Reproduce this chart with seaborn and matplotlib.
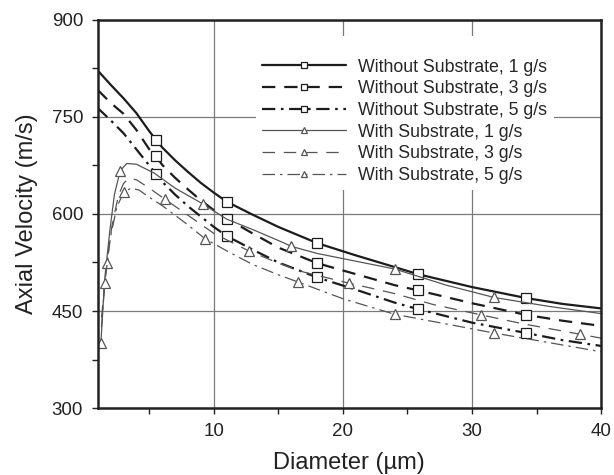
import matplotlib
matplotlib.use("Agg")
import matplotlib.pyplot as plt
import seaborn as sns

# without substrate (thick lines, squares)
wo_x = [1, 2, 3, 4, 5, 5.5, 6, 7, 8, 9, 10, 11, 13, 15, 18, 21, 24, 25.8, 30, 34.2, 37, 40]
wo_1 = [822, 800, 779, 756, 728, 715, 703, 683, 665, 648, 633, 619, 599, 580, 555, 536, 518, 507, 487, 470, 461, 454]
wo_3 = [792, 772, 755, 730, 700, 690, 676, 656, 638, 621, 606, 593, 570, 548, 524, 507, 490, 482, 462, 444, 435, 427]
wo_5 = [764, 745, 725, 700, 675, 662, 650, 630, 612, 596, 580, 566, 545, 525, 502, 483, 463, 453, 432, 416, 405, 396]
wo_marks = [5.5, 11, 18, 25.8, 34.2]

# with substrate (thin lines, triangles)
ws1_x = [1.25, 1.55, 1.95, 2.3, 2.75, 3.25, 4, 5.4, 7, 9.2, 11, 13, 15, 16, 18, 20.5, 24, 28, 31.7, 36, 40]
ws1_y = [400, 500, 575, 630, 667, 678, 677, 663, 640, 615, 592, 576, 559, 550, 539, 529, 515, 490, 471, 457, 446]
ws1_marks = [1.25, 2.75, 9.2, 16, 24, 31.7]

ws3_x = [1.3, 1.7, 2.1, 2.6, 3.0, 3.4, 4, 5, 6.2, 8, 10, 12.7, 15, 17, 20.5, 24, 27, 30.7, 34, 38.4, 40]
ws3_y = [440, 524, 580, 628, 647, 655, 653, 640, 623, 598, 570, 543, 524, 510, 493, 477, 460, 444, 430, 414, 408]
ws3_marks = [1.7, 6.2, 12.7, 20.5, 30.7, 38.4]

ws5_x = [1.3, 1.55, 2.0, 2.5, 3.05, 3.6, 4.2, 5, 6, 7, 8, 9.3, 11, 13, 15, 16.5, 20, 24, 28, 31.7, 36, 40]
ws5_y = [425, 493, 565, 612, 634, 640, 637, 626, 613, 598, 583, 562, 543, 522, 506, 495, 469, 445, 430, 416, 401, 387]
ws5_marks = [1.55, 3.05, 9.3, 16.5, 24, 31.7]

labels = ["Without Substrate, 1 g/s", "Without Substrate, 3 g/s", "Without Substrate, 5 g/s",
          "With Substrate, 1 g/s", "With Substrate, 3 g/s", "With Substrate, 5 g/s"]

sns.set_style("ticks")
plt.rcParams["font.family"] = ["Liberation Sans", "DejaVu Sans"]

fig = plt.figure(figsize=(6.14, 4.75), dpi=100)
ax = fig.add_axes([0.159, 0.141, 0.820, 0.817])

dark = "#1c1c1c"
grey = "#555555"
series = [
    (wo_x, wo_1, wo_marks, "s", dark, 1.6, "-"),
    (wo_x, wo_3, wo_marks, "s", dark, 1.6, (0, (6, 4))),
    (wo_x, wo_5, wo_marks, "s", dark, 1.6, (0, (6, 2.5, 1.2, 2.5))),
    (ws1_x, ws1_y, ws1_marks, "^", grey, 0.9, "-"),
    (ws3_x, ws3_y, ws3_marks, "^", grey, 0.9, (0, (10, 7))),
    (ws5_x, ws5_y, ws5_marks, "^", grey, 0.9, (0, (10, 4, 2, 4))),
]

for (xs, ys, marks, mk, col, lw, ls), lab in zip(series, labels):
    idx = [xs.index(m) for m in marks]
    sns.lineplot(x=xs, y=ys, ax=ax, estimator=None, sort=False, color=col, lw=lw,
                 linestyle=ls, marker=mk, markevery=idx, markersize=6.5,
                 markerfacecolor="white", markeredgecolor=col, markeredgewidth=0.9,
                 label=lab)

ax.set_xlim(1, 40)
ax.set_ylim(300, 900)
ax.set_xticks([10, 20, 30, 40])
ax.set_xticks([5, 15, 25, 35], minor=True)
ax.set_yticks([300, 450, 600, 750, 900])
ax.set_yticks([375, 525, 675, 825], minor=True)
ax.grid(True, which="major", color="#7a7a7a", lw=0.9)
ax.tick_params(which="both", direction="out", length=4, width=1, color="#222222",
               labelsize=13.5, labelcolor="#222222", top=False, right=False, pad=6.5)
for s in ax.spines.values():
    s.set_visible(True)
    s.set_linewidth(1.8)
    s.set_color("#222222")

ax.set_xlabel("Diameter (\u00b5m)", fontsize=17, color="#222222", labelpad=9)
ax.set_ylabel("Axial Velocity (m/s)", fontsize=17, color="#222222", labelpad=10)

leg = ax.legend(loc="upper left", bbox_to_anchor=(0.315, 0.959), borderaxespad=0,
                fontsize=12.8, handlelength=4.7, handletextpad=0.7, labelspacing=0.26,
                markerscale=0.6, frameon=True, fancybox=False, borderpad=0.35,
                title=" ", title_fontsize=9)
leg.get_frame().set_facecolor("white")
leg.get_frame().set_edgecolor("none")
leg.get_frame().set_alpha(1)

fig.savefig("out.png", dpi=100)
